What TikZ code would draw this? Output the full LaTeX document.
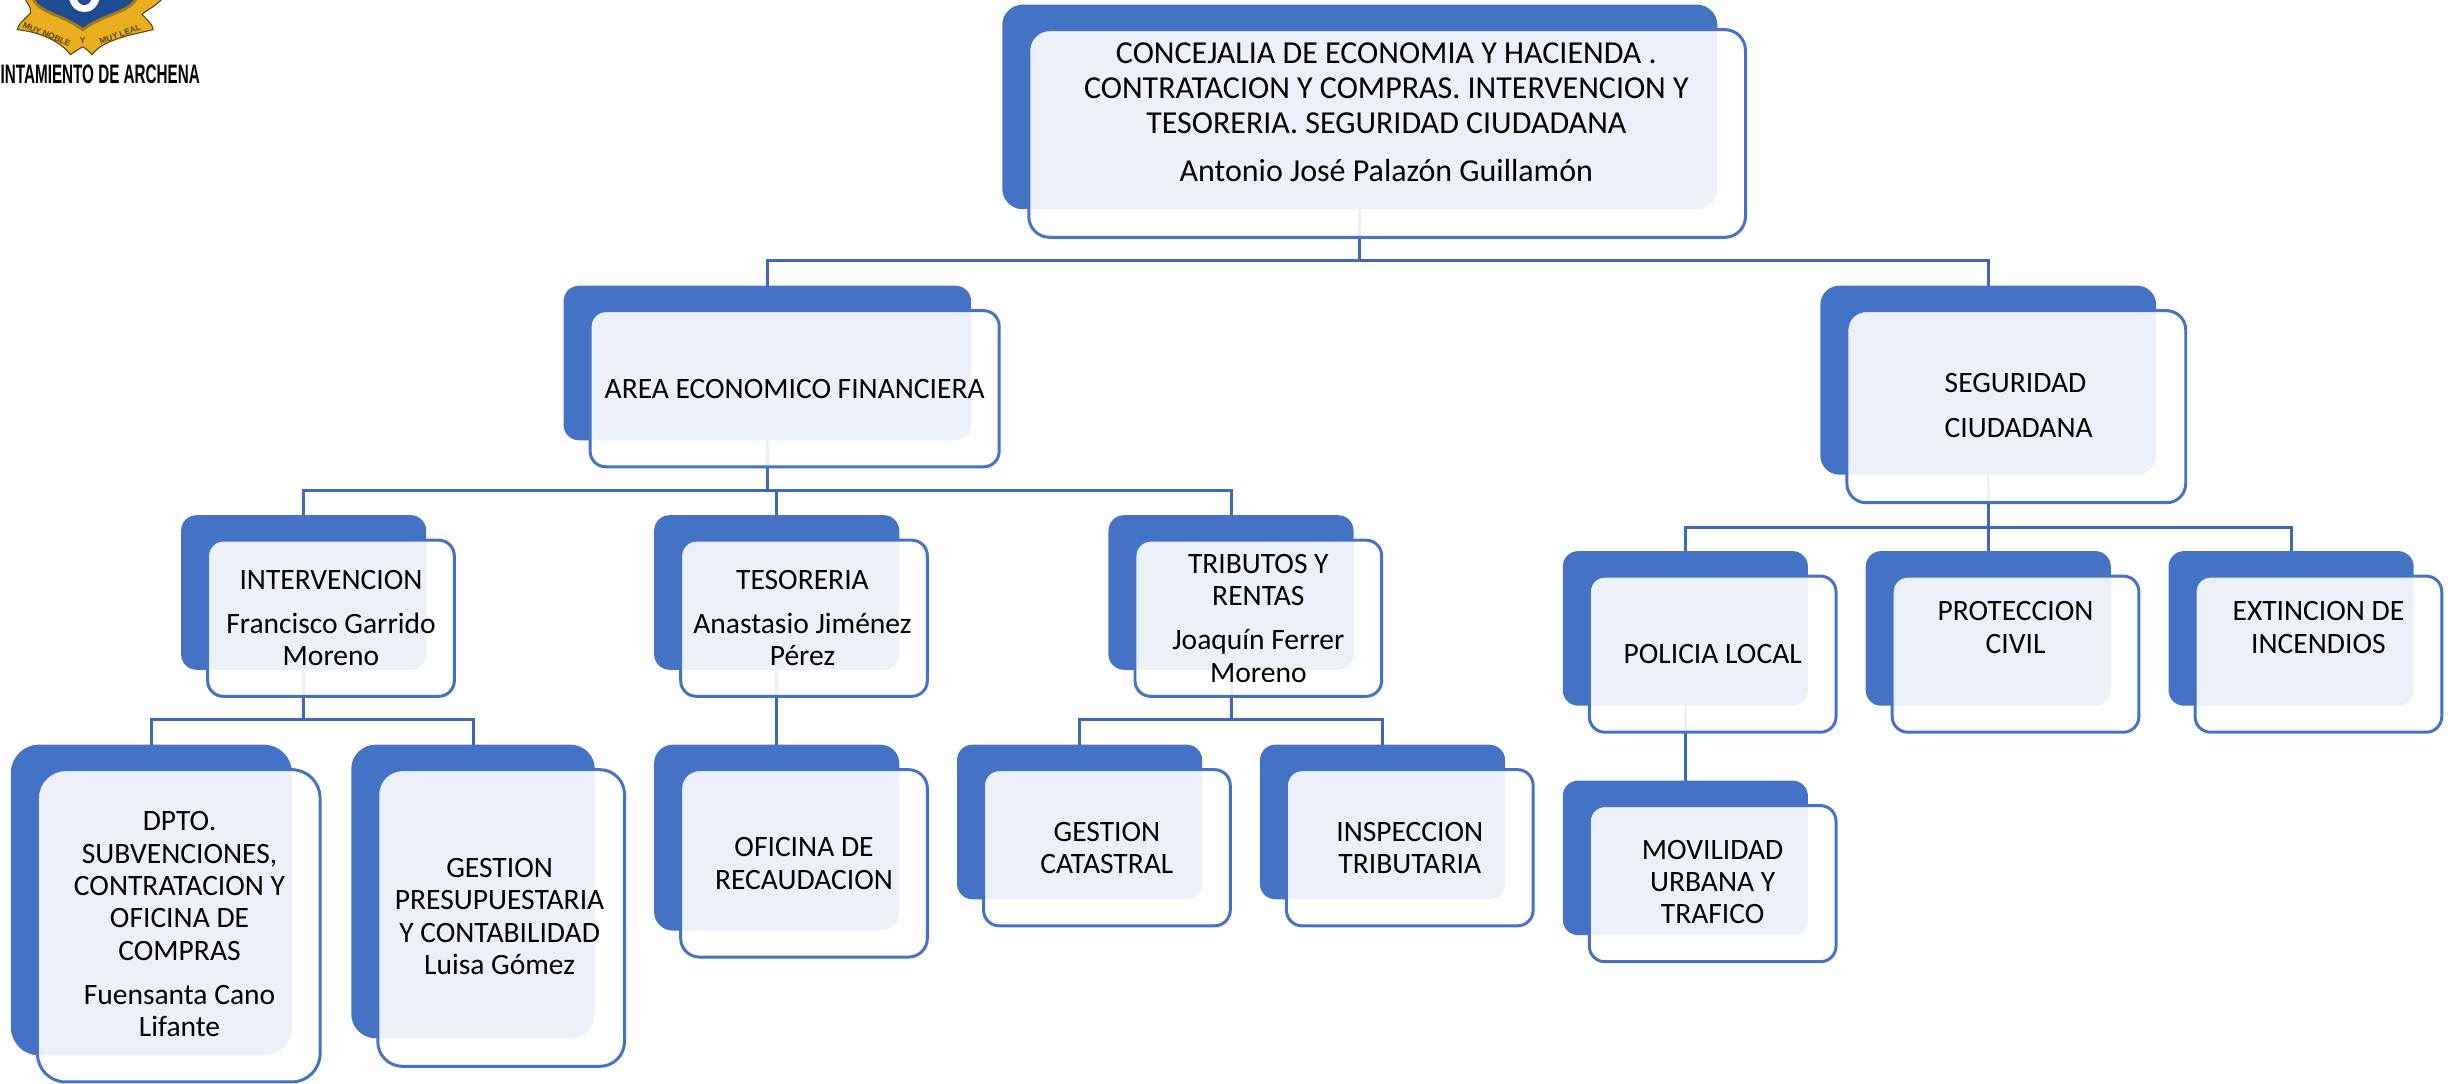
\documentclass[tikz,border=0pt]{standalone}
\usepackage{fontspec}
\setmainfont{Carlito}
\newfontfamily\logofont{Liberation Sans}
\usetikzlibrary{arrows.meta}
\definecolor{azul}{HTML}{4472C4}
\definecolor{enlace}{HTML}{3D69B8}
\definecolor{oro}{HTML}{E8AE1E}
\definecolor{oscuro}{HTML}{5A4210}
\definecolor{escudo}{HTML}{1D4C94}
\tikzset{
  fondo/.style={fill=azul, draw=none, inner sep=0pt, outer sep=0pt},
  frente/.style={fill=white, fill opacity=0.9, draw=azul, line width=0.85pt, inner sep=0pt, outer sep=0pt},
  etiqueta/.style={align=center, font=\fontsize{8.4}{9.2}\selectfont, inner sep=0pt},
  lema/.style={inner sep=0pt, text=oscuro, font=\logofont\bfseries\fontsize{2.4}{3}\selectfont},
  enlace/.style={draw=enlace, line width=0.85pt}
}
% caja{name}{left}{top}{right}{bottom}: back panel and frame
\newcommand{\caja}[5]{%
  \pgfmathsetmacro{\radio}{0.1*min(#4-#2,#5-#3)*0.4442}
  \pgfmathsetmacro{\ancho}{(#4-#2)*0.4442}
  \pgfmathsetmacro{\alto}{(#5-#3)*0.4442}
  \node[fondo, rounded corners=\radio pt, minimum width=\ancho pt, minimum height=\alto pt] (#1) at ({(#2+#4)/2}, {(#3+#5)/2}) {};
}
\newcommand{\marco}[5]{%
  \pgfmathsetmacro{\radio}{0.1*min(#4-#2,#5-#3)*0.4442}
  \pgfmathsetmacro{\ancho}{(#4-#2)*0.4442}
  \pgfmathsetmacro{\alto}{(#5-#3)*0.4442}
  \node[frente, rounded corners=\radio pt, minimum width=\ancho pt, minimum height=\alto pt] (#1) at ({(#2+#4)/2}, {(#3+#5)/2}) {};
}
\begin{document}
\begin{tikzpicture}[x=0.0156122cm, y=-0.0156122cm]
  \useasboundingbox (0, 0) rectangle (1568, 694);
  % logo
  \begin{scope}
    \clip (0, 0) rectangle (1568, 694);
    \fill[oro, draw=oscuro, line width=0.3pt] (15, -2) .. controls (20, 5) and (21, 8) .. (18, 10) .. controls (15, 13) and (12, 15) .. (11, 19) .. controls (22, 20) and (38, 25) .. (45, 35) .. controls (48, 33) and (51, 31) .. (53, 30) .. controls (55, 31) and (57, 33) .. (59, 35) .. controls (66, 25) and (86, 22) .. (98, 19) .. controls (98, 15) and (92, 11) .. (91, 9) .. controls (95, 6) and (101, 3) .. (105, -2) -- cycle;
    \fill[oro] (20, -2) -- (88, -2) -- (88, 6) -- (54, 22) -- (24, 6) -- cycle;
    \fill[escudo, draw=oro!70!black, line width=0.8pt] (21, -2) .. controls (23, 8) and (40, 9) .. (53, 19) .. controls (66, 9) and (84, 8) .. (88, -2) -- cycle;
    \fill[white] (44, -2) .. controls (46, 11) and (62, 11) .. (64, -2) -- cycle;
    \fill[escudo] (49, -2) .. controls (50, 5) and (58, 5) .. (59, -2) -- cycle;
  \end{scope}
  \node[lema, rotate=-22] (lemaizq) at (30, 22) {MUY NOBLE};
  \node[lema] (lemay) at (53, 26) {Y};
  \node[lema, rotate=20] (lemader) at (77, 22) {MUY LEAL};
  \node[inner sep=0pt, anchor=west] (logotexto) at (0, 47.5) {\scalebox{0.57}[1]{\logofont\bfseries\fontsize{7.6}{9}\selectfont INTAMIENTO DE ARCHENA}};
  % back panels
  \caja{top}{642}{3}{1100}{134}
  \caja{area}{361}{183}{622}{282}
  \caja{segu}{1166}{183}{1381}{304}
  \caja{inter}{116}{330}{273}{429}
  \caja{teso}{419}{330}{576}{429}
  \caja{trib}{710}{330}{867}{429}
  \caja{dpto}{7}{477}{187}{676}
  \caja{gest}{225}{477}{381}{665}
  \caja{ofic}{419}{477}{576}{596}
  \caja{cata}{613}{477}{770}{576}
  \caja{insp}{807}{477}{964}{576}
  \caja{poli}{1001}{353}{1158}{452}
  \caja{prot}{1195}{353}{1352}{452}
  \caja{exti}{1389}{353}{1546}{452}
  \caja{movi}{1001}{500}{1158}{599}
  % connectors
  \draw[enlace] (top.south) -- (871, 167) -| (area.north);
  \draw[enlace] (top.south) -- (871, 167) -| (segu.north);
  \draw[enlace] (area.south) -- (491.5, 314) -| (inter.north);
  \draw[enlace] (area.south) -- (491.5, 314) -| (teso.north);
  \draw[enlace] (area.south) -- (491.5, 314) -| (trib.north);
  \draw[enlace] (segu.south) -- (1273.5, 338) -| (poli.north);
  \draw[enlace] (segu.south) -- (1273.5, 338) -| (prot.north);
  \draw[enlace] (segu.south) -- (1273.5, 338) -| (exti.north);
  \draw[enlace] (inter.south) -- (194.5, 461) -| (dpto.north);
  \draw[enlace] (inter.south) -- (194.5, 461) -| (gest.north);
  \draw[enlace] (teso.south) -- (ofic.north);
  \draw[enlace] (trib.south) -- (788.5, 461) -| (cata.north);
  \draw[enlace] (trib.south) -- (788.5, 461) -| (insp.north);
  \draw[enlace] (poli.south) -- (movi.north);
  % frames
  \marco{topf}{659}{19}{1118}{152}
  \marco{areaf}{378}{199}{640}{299}
  \marco{seguf}{1183}{199}{1400}{322}
  \marco{interf}{133}{346}{291}{446}
  \marco{tesof}{436}{346}{594}{446}
  \marco{tribf}{727}{346}{885}{446}
  \marco{dptof}{24}{493}{205}{693}
  \marco{gestf}{242}{493}{400}{683}
  \marco{oficf}{436}{493}{594}{613}
  \marco{cataf}{630}{493}{788}{593}
  \marco{inspf}{824}{493}{982}{593}
  \marco{polif}{1018}{369}{1176}{469}
  \marco{protf}{1212}{369}{1370}{469}
  \marco{extif}{1406}{369}{1564}{469}
  \marco{movif}{1018}{516}{1176}{616}
  % labels
  \node[etiqueta, font=\fontsize{9.1}{10}\selectfont] (toptxt) at (888, 72) {CONCEJALIA DE ECONOMIA Y HACIENDA .\\CONTRATACION Y COMPRAS. INTERVENCION Y\\TESORERIA. SEGURIDAD CIUDADANA\\[3.6pt]Antonio José Palazón Guillamón};
  \node[etiqueta] (areatxt) at (509, 249) {AREA ECONOMICO FINANCIERA};
  \node[etiqueta, align=left] (segutxt) at (1293, 260) {SEGURIDAD\\[3.6pt]CIUDADANA};
  \node[etiqueta] (intertxt) at (212, 396) {INTERVENCION\\[3.3pt]Francisco Garrido\\Moreno};
  \node[etiqueta] (tesotxt) at (514, 396) {TESORERIA\\[3.3pt]Anastasio Jiménez\\Pérez};
  \node[etiqueta] (tribtxt) at (806, 396) {TRIBUTOS Y\\RENTAS\\[3.3pt]Joaquín Ferrer\\Moreno};
  \node[etiqueta] (dptotxt) at (115, 592) {DPTO.\\SUBVENCIONES,\\CONTRATACION Y\\OFICINA DE\\COMPRAS\\[3.3pt]Fuensanta Cano\\Lifante};
  \node[etiqueta] (gesttxt) at (320, 587) {GESTION\\PRESUPUESTARIA\\Y CONTABILIDAD\\Luisa Gómez};
  \node[etiqueta] (ofictxt) at (515, 553) {OFICINA DE\\RECAUDACION};
  \node[etiqueta] (catatxt) at (709, 543) {GESTION\\CATASTRAL};
  \node[etiqueta] (insptxt) at (903, 543) {INSPECCION\\TRIBUTARIA};
  \node[etiqueta] (politxt) at (1097, 419) {POLICIA LOCAL};
  \node[etiqueta] (prottxt) at (1291, 402) {PROTECCION\\CIVIL};
  \node[etiqueta] (extitxt) at (1485, 402) {EXTINCION DE\\INCENDIOS};
  \node[etiqueta] (movitxt) at (1097, 565) {MOVILIDAD\\URBANA Y\\TRAFICO};
\end{tikzpicture}
\end{document}
